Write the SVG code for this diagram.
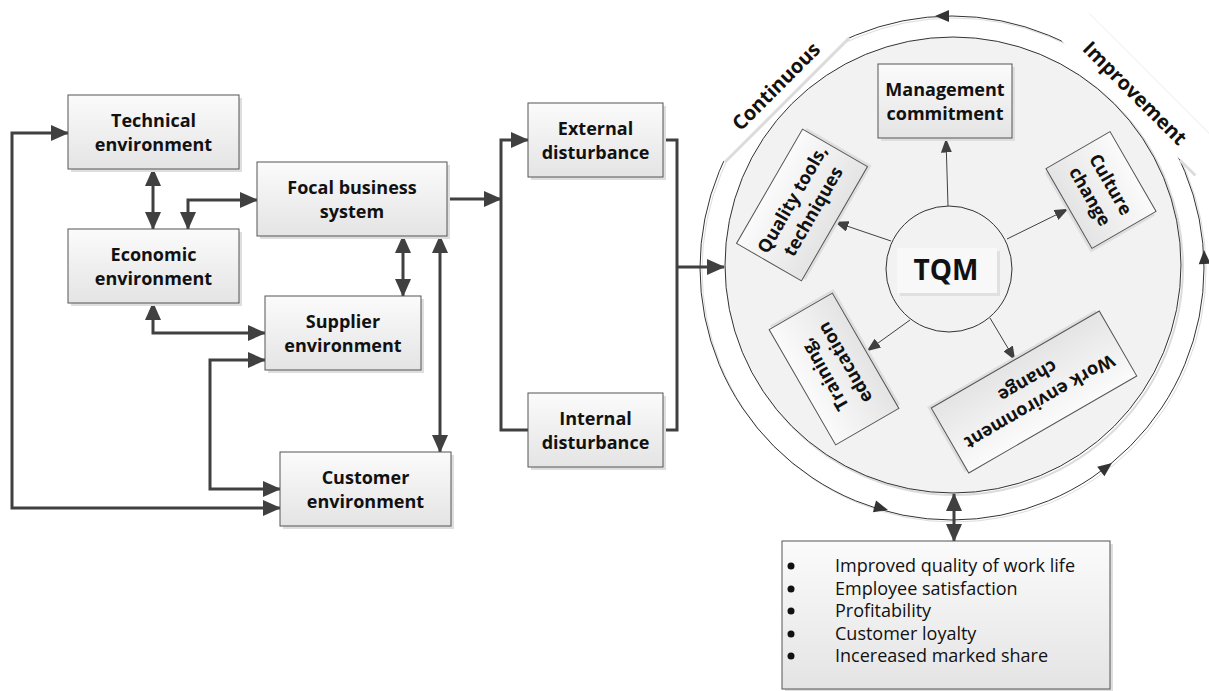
<svg xmlns="http://www.w3.org/2000/svg" width="1209" height="691" viewBox="0 0 1209 691">
<defs>
<linearGradient id="g" x1="0" y1="0" x2="0" y2="1"><stop offset="0" stop-color="#fbfbfb"/><stop offset="1" stop-color="#e4e4e4"/></linearGradient>
<marker id="a" viewBox="0 0 18 16" refX="17" refY="8" markerWidth="18" markerHeight="16" markerUnits="userSpaceOnUse" orient="auto-start-reverse"><path d="M0,0 L18,8 L0,16 z" fill="#404040"/></marker>
<marker id="s" viewBox="0 0 14 11" refX="13.5" refY="5.5" markerWidth="14" markerHeight="11" markerUnits="userSpaceOnUse" orient="auto"><path d="M0,0 L14,5.5 L0,11 z" fill="#404040"/></marker>
<path id="rh" d="M0,0 L-14,-6 L-14,6 z" fill="#333"/>
<style>
.box{fill:url(#g);stroke:#555;stroke-width:1}
.sh{fill:#dedede}
.t{font-family:"Open Sans","Liberation Sans",sans-serif;font-weight:bold;font-size:18px;fill:#111;text-anchor:middle}
.big{font-size:20px}
.tqm{font-size:28px}
.b{font-family:"Open Sans","Liberation Sans",sans-serif;font-size:18px;fill:#111}
.c{fill:none;stroke:#404040;stroke-width:3}
.thin{fill:none;stroke:#404040;stroke-width:1}
</style>
</defs>
<rect width="1209" height="691" fill="#fff"/>

<!-- TQM wheel background -->
<g id="ring">
<circle cx="954" cy="270" r="252" fill="none" stroke="#dcdcdc" stroke-width="1"/>
<circle cx="952" cy="268" r="252" fill="none" stroke="#333" stroke-width="1"/>
<circle cx="955" cy="267" r="228" fill="none" stroke="#dcdcdc" stroke-width="2"/>
<circle cx="953" cy="265" r="228" fill="#f2f2f2" stroke="#333" stroke-width="1"/>
<use href="#rh" transform="translate(935,16) rotate(180)"/>
<use href="#rh" transform="translate(1204,250) rotate(-93)"/>
<use href="#rh" transform="translate(1112,463) rotate(-37)"/>
<use href="#rh" transform="translate(888,510) rotate(15)"/>
</g>
<g id="label-continuous" transform="translate(786,99) rotate(-45)">
<rect x="-88" y="-36" width="176" height="37" fill="#fff"/>
<line x1="-88" y1="1.5" x2="88" y2="1.5" stroke="#dcdcdc" stroke-width="3"/>
<text class="t big" x="2" y="-9">Continuous</text>
</g>
<g id="label-improvement" transform="translate(1121.5,99.5) rotate(45)">
<rect x="-84" y="-38" width="190" height="39" fill="#fff"/>
<line x1="-84" y1="-38" x2="106" y2="-38" stroke="#f0f0f0" stroke-width="1"/>
<line x1="84" y1="1.5" x2="106" y2="1.5" stroke="#dcdcdc" stroke-width="3"/>
<text class="t big" x="5" y="-7">Improvement</text>
</g>

<!-- connectors -->
<g id="connectors">
<path class="c" d="M68,133 H12 V508 H280" marker-start="url(#a)" marker-end="url(#a)"/>
<path class="c" d="M153,169 V229" marker-start="url(#a)" marker-end="url(#a)"/>
<path class="c" d="M188,229 V200 H257" marker-start="url(#a)" marker-end="url(#a)"/>
<path class="c" d="M153,303 V333 H265" marker-start="url(#a)" marker-end="url(#a)"/>
<path class="c" d="M265,360 H210 V489 H280" marker-start="url(#a)" marker-end="url(#a)"/>
<path class="c" d="M403,236 V296" marker-start="url(#a)" marker-end="url(#a)"/>
<path class="c" d="M440,236 V452" marker-start="url(#a)" marker-end="url(#a)"/>
<path class="c" d="M447,199 H501" marker-end="url(#a)"/>
<path class="c" d="M528,140 H501 V430 H528" marker-start="url(#a)"/>
<path class="c" d="M663,140 H677 V430 H663"/>
<path class="c" d="M677,267 H724" marker-end="url(#a)"/>
<path class="c" d="M954,494 V541" marker-start="url(#a)" marker-end="url(#a)"/>
<path class="thin" d="M948,206 L946,139" marker-end="url(#s)"/>
<path class="thin" d="M891,241 L835,222" marker-end="url(#s)"/>
<path class="thin" d="M1007,239 L1068,209" marker-end="url(#s)"/>
<path class="thin" d="M910,320 L867,351" marker-end="url(#s)"/>
<path class="thin" d="M990,318 L1015,360" marker-end="url(#s)"/>
</g>

<!-- left nodes -->
<g id="technical"><rect class="sh" x="71" y="98" width="171" height="74"/><rect class="box" x="68" y="95" width="171" height="74"/><text class="t" x="153.5" y="127">Technical</text><text class="t" x="153.5" y="151">environment</text></g>
<g id="economic"><rect class="sh" x="71" y="232" width="171" height="74"/><rect class="box" x="68" y="229" width="171" height="74"/><text class="t" x="153.5" y="261">Economic</text><text class="t" x="153.5" y="285">environment</text></g>
<g id="focal"><rect class="sh" x="260" y="165" width="190" height="74"/><rect class="box" x="257" y="162" width="190" height="74"/><text class="t" x="352" y="194">Focal business</text><text class="t" x="352" y="218">system</text></g>
<g id="supplier"><rect class="sh" x="268" y="299" width="156" height="74"/><rect class="box" x="265" y="296" width="156" height="74"/><text class="t" x="343" y="328">Supplier</text><text class="t" x="343" y="352">environment</text></g>
<g id="customer"><rect class="sh" x="283" y="455" width="171" height="74"/><rect class="box" x="280" y="452" width="171" height="74"/><text class="t" x="365.5" y="484">Customer</text><text class="t" x="365.5" y="508">environment</text></g>
<g id="external"><rect class="sh" x="531" y="106" width="135" height="74"/><rect class="box" x="528" y="103" width="135" height="74"/><text class="t" x="595.5" y="135">External</text><text class="t" x="595.5" y="159">disturbance</text></g>
<g id="internal"><rect class="sh" x="531" y="396" width="135" height="74"/><rect class="box" x="528" y="393" width="135" height="74"/><text class="t" x="595.5" y="425">Internal</text><text class="t" x="595.5" y="449">disturbance</text></g>

<!-- wheel nodes -->
<g id="tqm">
<circle cx="949" cy="269" r="63" fill="#f2f2f2" stroke="#333" stroke-width="1"/>
<rect x="900" y="251" width="100" height="45" fill="#e0e0e0"/>
<rect x="897" y="248" width="100" height="45" fill="#f8f8f8"/>
<text class="t tqm" x="946" y="280">TQM</text>
</g>
<g id="management"><rect class="sh" x="881" y="67" width="134" height="74"/><rect class="box" x="878" y="64" width="134" height="74"/><text class="t" x="945" y="96">Management</text><text class="t" x="945" y="120">commitment</text></g>
<g id="quality" transform="translate(802,205) rotate(-60)"><rect class="sh" x="-63" y="-34.5" width="132" height="75"/><rect class="box" x="-66" y="-37.5" width="132" height="75"/><text class="t" y="-5">Quality tools,</text><text class="t" y="19">techniques</text></g>
<g id="culture" transform="translate(1101,190) rotate(60)"><rect class="sh" x="-43" y="-34" width="92" height="74"/><rect class="box" x="-46" y="-37" width="92" height="74"/><text class="t" y="-5">Culture</text><text class="t" y="19">change</text></g>
<g id="training" transform="translate(834,369) rotate(240)"><rect class="sh" x="-63.5" y="-33.5" width="133" height="73"/><rect class="box" x="-66.5" y="-36.5" width="133" height="73"/><text class="t" y="-5">Training,</text><text class="t" y="19">education</text></g>
<g id="work" transform="translate(1034,392) rotate(150)"><rect class="sh" x="-94" y="-34.5" width="194" height="75"/><rect class="box" x="-97" y="-37.5" width="194" height="75"/><text class="t" y="-5">Work environment</text><text class="t" y="19">change</text></g>

<!-- outcomes -->
<g id="outcomes">
<rect class="sh" x="785" y="544" width="328" height="148"/>
<rect class="box" x="782" y="541" width="328" height="148"/>
<circle cx="791" cy="566" r="3.5" fill="#111"/>
<circle cx="791" cy="589" r="3.5" fill="#111"/>
<circle cx="791" cy="611" r="3.5" fill="#111"/>
<circle cx="791" cy="634" r="3.5" fill="#111"/>
<circle cx="791" cy="656" r="3.5" fill="#111"/>
<text class="b" x="835" y="572">Improved quality of work life</text>
<text class="b" x="835" y="595">Employee satisfaction</text>
<text class="b" x="835" y="617">Profitability</text>
<text class="b" x="835" y="640">Customer loyalty</text>
<text class="b" x="835" y="662">Incereased marked share</text>
</g>
</svg>
